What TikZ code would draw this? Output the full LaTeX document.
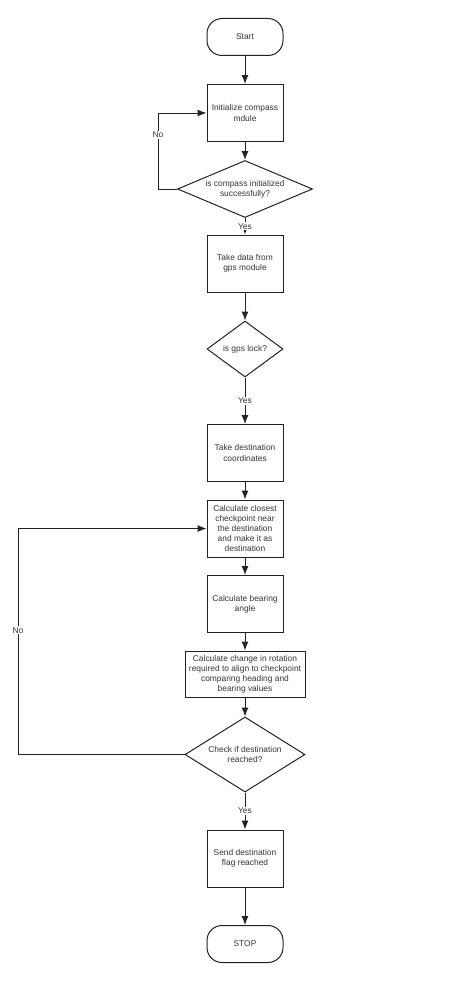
\documentclass[tikz,border=0pt]{standalone}
\usepackage{fontspec}
\setmainfont{Liberation Sans}
\usetikzlibrary{shapes.geometric,arrows.meta}
\definecolor{ink}{HTML}{222222}
\definecolor{txt}{HTML}{333333}
\begin{document}
\begin{tikzpicture}[x=1pt,y=-1pt,
  every node/.style={font=\fontsize{8.4}{10.1}\selectfont, text=txt, align=center},
  proc/.style={draw=ink, line width=1pt, minimum width=76pt, minimum height=57pt, inner sep=0pt},
  term/.style={draw=ink, line width=1pt, rounded corners=15pt, minimum width=76pt, minimum height=37pt, inner sep=0pt},
  dec/.style={draw=ink, line width=1pt, diamond, inner sep=0pt},
  arr/.style={draw=ink, line width=1pt, -{Latex[length=9pt,width=7pt]}},
  lbl/.style={fill=white, inner sep=1pt}]
\useasboundingbox (0,0) rectangle (450,982);
\node[term] (start) at (245,37) {Start};
\node[proc] (init) at (245,113) {Initialize compass\\mdule};
\node[dec, aspect=2.37, minimum width=135pt, minimum height=57pt] (d1) at (245,189) {is compass initialized\\successfully?};
\node[proc] (gps) at (245,263.5) {Take data from\\gps module};
\node[dec, aspect=1.36, minimum width=76pt, minimum height=56pt] (d2) at (245,349) {is gps lock?};
\node[proc] (dest) at (245,453) {Take destination\\coordinates};
\node[proc] (close) at (245,528.5) {Calculate closest\\checkpoint near\\the destination\\and make it as\\destination};
\node[proc] (bear) at (245,604) {Calculate bearing\\angle};
\node[proc, minimum width=120pt, minimum height=46pt] (rot) at (245,674) {Calculate change in rotation\\required to align to checkpoint\\comparing heading and\\bearing values};
\node[dec, aspect=1.6, minimum width=120pt, minimum height=75pt] (d3) at (245,754.5) {Check if destination\\reached?};
\node[proc] (send) at (245,858.5) {Send destination\\flag reached};
\node[term] (stop) at (245,944) {STOP};
\coordinate (n1a) at (158,189);
\coordinate (n1b) at (158,113);
\coordinate (n2a) at (18,754.5);
\coordinate (n2b) at (18,528.5);
\draw[arr] (start) -- (init);
\draw[arr] (init) -- (d1);
\draw[arr] (d1.west) -- (n1a) -- node[lbl, pos=0.71]{No} (n1b) -- (init.west);
\draw[arr] (d1) -- node[lbl]{Yes} (gps);
\draw[arr] (gps) -- (d2);
\draw[arr] (d2) -- node[lbl]{Yes} (dest);
\draw[arr] (dest) -- (close);
\draw[arr] (close) -- (bear);
\draw[arr] (bear) -- (rot);
\draw[arr] (rot) -- (d3);
\draw[arr] (d3.west) -- (n2a) -- node[lbl, pos=0.55]{No} (n2b) -- (close.west);
\draw[arr] (d3) -- node[lbl]{Yes} (send);
\draw[arr] (send) -- (stop);
\end{tikzpicture}
\end{document}
